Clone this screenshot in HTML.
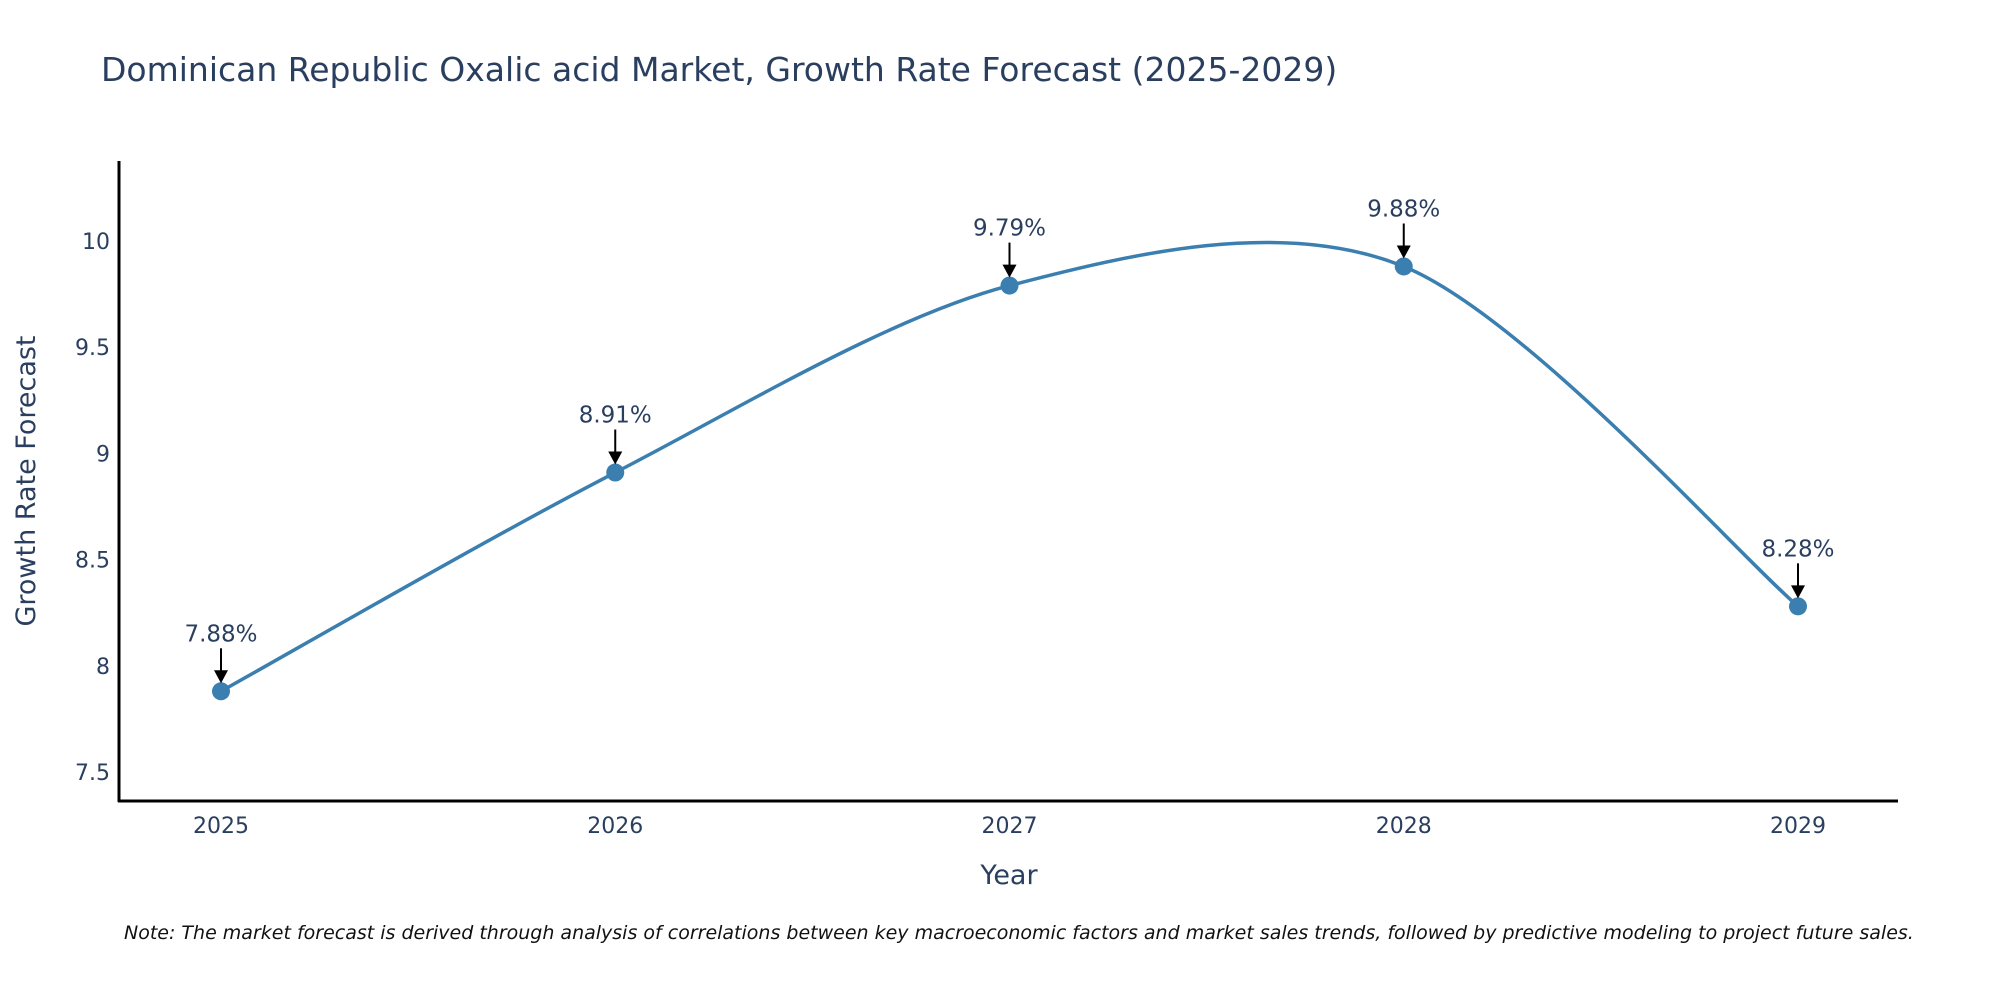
<!DOCTYPE html>
<html><head><meta charset="utf-8"><style>
body{margin:0;background:#fff;}
svg text{font-family:"DejaVu Sans",sans-serif;fill:#2a3f5f;}
</style></head><body>
<svg width="2000" height="1000" xmlns="http://www.w3.org/2000/svg">
<text x="101" y="81" font-size="33">Dominican Republic Oxalic acid Market, Growth Rate Forecast (2025-2029)</text>
<g id="yticks"></g>
<g id="xticks"></g>
<line x1="119" y1="161" x2="119" y2="802" stroke="#000" stroke-width="3"/>
<line x1="118" y1="801" x2="1898" y2="801" stroke="#000" stroke-width="3"/>
<text x="0" y="0" font-size="27" text-anchor="middle" transform="translate(35,481) rotate(-90)">Growth Rate Forecast</text>
<text x="1009" y="884" font-size="27" text-anchor="middle">Year</text>
<path id="line" fill="none" stroke="#3a7fb0" stroke-width="3.5"/>
<g id="marks"></g>
<text x="124" y="939" font-size="19" font-style="italic" style="fill:#111">Note: The market forecast is derived through analysis of correlations between key macroeconomic factors and market sales trends, followed by predictive modeling to project future sales.</text>
</svg>
<script>
const years=[2025,2026,2027,2028,2029];
const values=[7.88,8.91,9.79,9.88,8.28];
const yTickVals=[7.5,8,8.5,9,9.5,10];
const yTickLabels=["7.5","8","8.5","9","9.5","10"];
const NS="http://www.w3.org/2000/svg";
function xs(v){return 221+(v-2025)*(1798-221)/4;}
function ys(v){return 772-(v-7.5)*(772-241)/2.5;}
function mk(t,a,p){const e=document.createElementNS(NS,t);for(const k in a)e.setAttribute(k,a[k]);p.appendChild(e);return e;}
const yt=document.getElementById('yticks');
yTickVals.forEach((v,i)=>{const t=mk('text',{x:110,y:ys(v)+8,'font-size':22,'text-anchor':'end'},yt);


t.textContent=yTickLabels[i];});
const xt=document.getElementById('xticks');
years.forEach(y=>{const t=mk('text',{x:xs(y),y:833,'font-size':22,'text-anchor':'middle'},xt);


t.textContent=y;});
const P=years.map((y,i)=>[xs(y),ys(values[i])]);
let d='M'+P[0][0]+','+P[0][1];
for(let i=0;i<P.length-1;i++){const p0=P[Math.max(i-1,0)],p1=P[i],p2=P[i+1],p3=P[Math.min(i+2,P.length-1)];
const k=1/6.5;
d+=` C${p1[0]+(p2[0]-p0[0])*k},${p1[1]+(p2[1]-p0[1])*k} ${p2[0]-(p3[0]-p1[0])*k},${p2[1]-(p3[1]-p1[1])*k} ${p2[0]},${p2[1]}`;}
document.getElementById('line').setAttribute('d',d);
const g=document.getElementById('marks');
P.forEach((p,i)=>{
const c=mk('circle',{cx:p[0],cy:p[1],r:9,fill:'#3a7fb0'},g);


const l=mk('line',{x1:p[0],y1:p[1]-43,x2:p[0],y2:p[1]-20,stroke:'#000','stroke-width':2},g);


const h=mk('path',{d:`M${p[0]-7},${p[1]-21} L${p[0]+7},${p[1]-21} L${p[0]},${p[1]-8} Z`,fill:'#000'},g);


const t=mk('text',{x:p[0],y:p[1]-50,'font-size':23,'text-anchor':'middle'},g);


t.textContent=values[i].toFixed(2)+'%';});
</script>
</body></html>
